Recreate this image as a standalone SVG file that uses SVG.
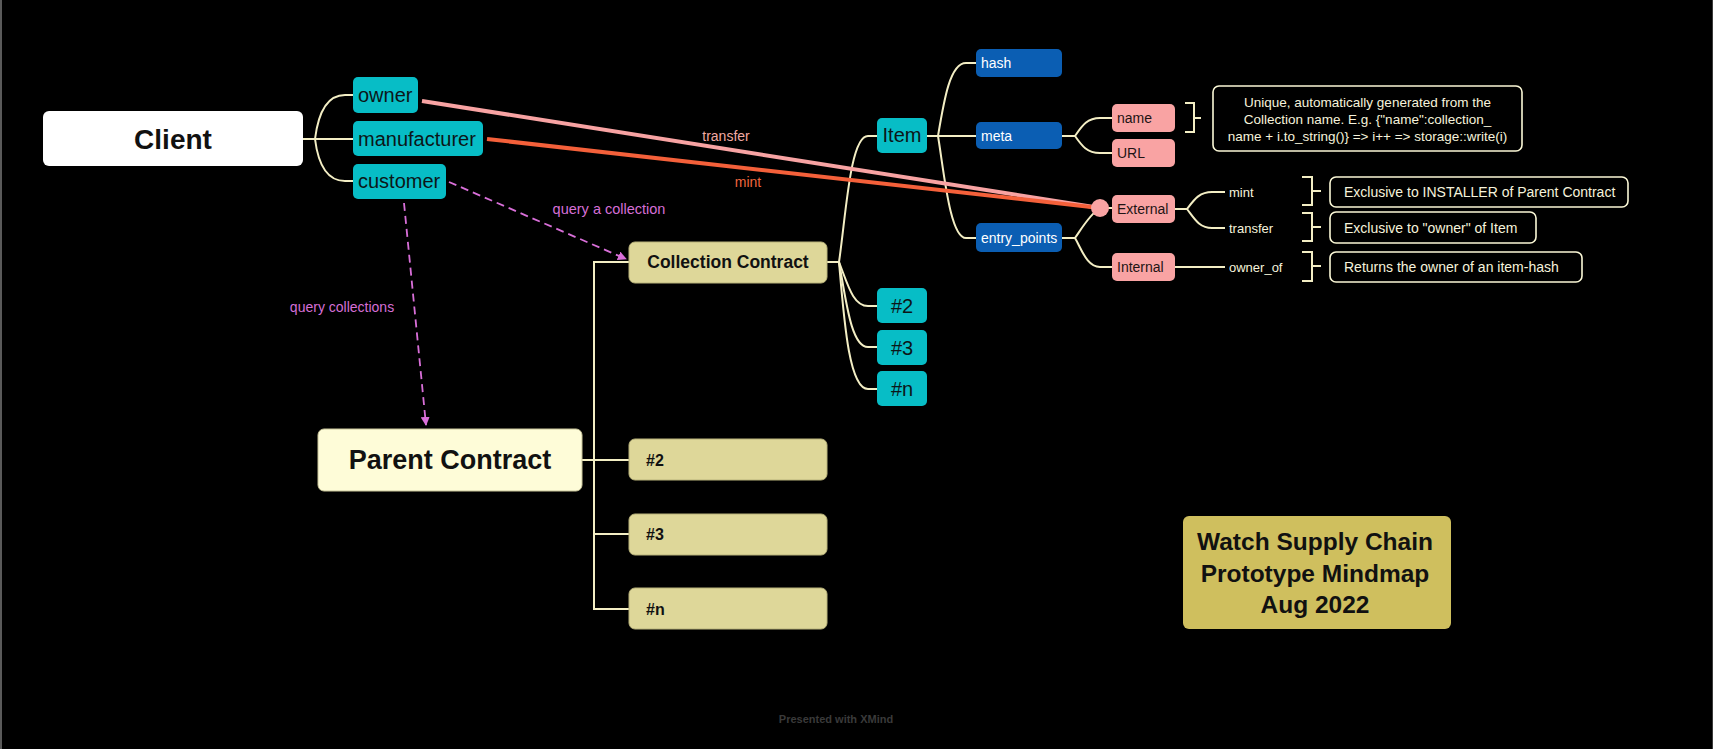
<svg xmlns="http://www.w3.org/2000/svg" width="1713" height="749" viewBox="0 0 1713 749">
<defs>
<marker id="arr" viewBox="0 0 10 10" refX="9" refY="5" markerWidth="9" markerHeight="9" markerUnits="userSpaceOnUse" orient="auto">
<path d="M0,0 L10,5 L0,10 z" fill="#d96fd9"/>
</marker>
<style>
text{font-family:"Liberation Sans",Arial,sans-serif}
.conn{fill:none;stroke:#f3eec4;stroke-width:2}
.brk{fill:none;stroke:#f3eec4;stroke-width:2}
.dash{fill:none;stroke:#d96fd9;stroke-width:1.8;stroke-dasharray:8 5}
.teal{fill:#07bdc6}
.blue{fill:#0b5eb3}
.pink{fill:#f9a3a3}
.khaki{fill:#ded799;stroke:#b8b27a;stroke-width:1}
.note{fill:none;stroke:#fbf8d6;stroke-width:1.6}
.tt{font-size:20px;fill:#0c1618}
.bt{font-size:14px;fill:#ffffff}
.pt{font-size:14px;fill:#1e1414}
.kt{font-size:16px;font-weight:bold;fill:#111}
.wt{font-size:13px;fill:#f6f3dc}
.nt{font-size:14px;fill:#f6f3dc}
.lbl{font-size:14px}
</style>
</defs>
<rect x="0" y="0" width="1713" height="749" fill="#000"/>
<rect x="0" y="0" width="2" height="749" fill="#5a5a5a"/>
<rect x="1712" y="0" width="1" height="749" fill="#3a3a3a"/>

<g id="connectors">
<!-- Client branches -->
<path class="conn" d="M303,139 H315"/>
<path class="conn" d="M315,139 C318,115 326,95 345,95 H353"/>
<path class="conn" d="M315,139 H353"/>
<path class="conn" d="M315,139 C318,163 326,181 345,181 H353"/>
<!-- Parent contract tree -->
<path class="conn" d="M582,460 H629"/>
<path class="conn" d="M629,262 H594 V609 H629"/>
<path class="conn" d="M594,534 H629"/>
<!-- Collection contract children -->
<path class="conn" d="M827,262 H839"/>
<path class="conn" d="M839,262 C846,215 850,136 868,136 H877"/>
<path class="conn" d="M839,262 C848,285 853,306 868,306 H877"/>
<path class="conn" d="M839,262 C846,300 851,347 868,347 H877"/>
<path class="conn" d="M839,262 C844,320 849,389 868,389 H877"/>
<!-- Item children -->
<path class="conn" d="M927,136 H976"/>
<path class="conn" d="M938,136 C944,100 950,63 966,63 H976"/>
<path class="conn" d="M938,136 C944,172 950,238 966,238 H976"/>
<!-- meta children -->
<path class="conn" d="M1062,136 H1075 C1082,126 1087,118 1100,118 H1112"/>
<path class="conn" d="M1075,136 C1082,146 1087,153 1100,153 H1112"/>
<!-- entry_points children -->
<path class="conn" d="M1062,238 H1075 C1082,228 1090,214 1100,208"/>
<path class="conn" d="M1075,238 C1082,250 1087,267 1100,267 H1112"/>
<path class="conn" d="M1105,208 H1112"/>
<!-- External / Internal children -->
<path class="conn" d="M1175,209 H1187 C1194,200 1199,192 1212,192 H1225"/>
<path class="conn" d="M1187,209 C1194,218 1199,228 1212,228 H1225"/>
<path class="conn" d="M1175,267 H1225"/>
<!-- brackets -->
<path class="brk" d="M1185,103 H1194 V132 H1185 M1194,118 H1201"/>
<path class="brk" d="M1302,177 H1312 V205 H1302 M1312,191 H1321"/>
<path class="brk" d="M1302,213 H1312 V241 H1302 M1312,227 H1321"/>
<path class="brk" d="M1302,252 H1312 V281 H1302 M1312,266 H1321"/>
<!-- relationships -->
<path d="M422,101 L1100,208" fill="none" stroke="#f8a3a3" stroke-width="4"/>
<path d="M487,139 L1100,208" fill="none" stroke="#f4603a" stroke-width="4"/>
<circle cx="1100" cy="208" r="9" fill="#f9a3a3"/>
<text class="lbl" x="726" y="141" text-anchor="middle" fill="#f2a9a2">transfer</text>
<text class="lbl" x="748" y="187" text-anchor="middle" fill="#f0663d">mint</text>
<path class="dash" d="M449,182 L626,259" marker-end="url(#arr)"/>
<path class="dash" d="M404,203 L426,425" marker-end="url(#arr)"/>
<text class="lbl" x="609" y="214" text-anchor="middle" fill="#d66fd6" style="font-size:14.5px">query a collection</text>
<text class="lbl" x="342" y="312" text-anchor="middle" fill="#d66fd6">query collections</text>
</g>

<g id="client">
<rect x="43" y="111" width="260" height="55" rx="6" fill="#fff"/>
<text x="173" y="149" text-anchor="middle" font-size="28" font-weight="bold" fill="#111">Client</text>
</g>
<g id="owner">
<rect class="teal" x="353" y="77" width="65" height="36" rx="5"/>
<text class="tt" x="358" y="102">owner</text>
</g>
<g id="manufacturer">
<rect class="teal" x="353" y="121" width="130" height="35" rx="5"/>
<text class="tt" x="358" y="146">manufacturer</text>
</g>
<g id="customer">
<rect class="teal" x="353" y="164" width="93" height="35" rx="5"/>
<text class="tt" x="358" y="188">customer</text>
</g>

<g id="parent-contract">
<rect x="318" y="429" width="264" height="62" rx="6" fill="#fefcd8" stroke="#c9c59a" stroke-width="1"/>
<text x="450" y="469" text-anchor="middle" font-size="27" font-weight="bold" fill="#111">Parent Contract</text>
</g>
<g id="collection-contract">
<rect class="khaki" x="629" y="242" width="198" height="41" rx="6"/>
<text x="728" y="268" text-anchor="middle" font-size="17.5" font-weight="bold" fill="#111">Collection Contract</text>
</g>
<g id="pc-2">
<rect class="khaki" x="629" y="439" width="198" height="41" rx="6"/>
<text class="kt" x="646" y="466">#2</text>
</g>
<g id="pc-3">
<rect class="khaki" x="629" y="514" width="198" height="41" rx="6"/>
<text class="kt" x="646" y="540">#3</text>
</g>
<g id="pc-n">
<rect class="khaki" x="629" y="588" width="198" height="41" rx="6"/>
<text class="kt" x="646" y="615">#n</text>
</g>

<g id="item">
<rect class="teal" x="877" y="118" width="50" height="35" rx="5"/>
<text class="tt" x="902" y="142" text-anchor="middle">Item</text>
</g>
<g id="cc-2">
<rect class="teal" x="877" y="288" width="50" height="35" rx="5"/>
<text class="tt" x="902" y="312.5" text-anchor="middle">#2</text>
</g>
<g id="cc-3">
<rect class="teal" x="877" y="330" width="50" height="35" rx="5"/>
<text class="tt" x="902" y="354.5" text-anchor="middle">#3</text>
</g>
<g id="cc-n">
<rect class="teal" x="877" y="371" width="50" height="35" rx="5"/>
<text class="tt" x="902" y="395.5" text-anchor="middle">#n</text>
</g>

<g id="hash">
<rect class="blue" x="976" y="49" width="86" height="28" rx="5"/>
<text class="bt" x="981" y="68">hash</text>
</g>
<g id="meta">
<rect class="blue" x="976" y="122" width="86" height="27" rx="5"/>
<text class="bt" x="981" y="140.5">meta</text>
</g>
<g id="entry-points">
<rect class="blue" x="976" y="223" width="86" height="29" rx="5"/>
<text class="bt" x="981" y="242.5">entry_points</text>
</g>

<g id="name">
<rect class="pink" x="1112" y="104" width="63" height="28" rx="5"/>
<text class="pt" x="1117" y="123">name</text>
</g>
<g id="url">
<rect class="pink" x="1112" y="139" width="63" height="28" rx="5"/>
<text class="pt" x="1117" y="158">URL</text>
</g>
<g id="external">
<rect class="pink" x="1112" y="195" width="63" height="28" rx="5"/>
<text class="pt" x="1117" y="214">External</text>
</g>
<g id="internal">
<rect class="pink" x="1112" y="253" width="63" height="28" rx="5"/>
<text class="pt" x="1117" y="272">Internal</text>
</g>

<g id="mint">
<text class="wt" x="1229" y="196.5">mint</text>
</g>
<g id="transfer">
<text class="wt" x="1229" y="232.5">transfer</text>
</g>
<g id="owner-of">
<text class="wt" x="1229" y="271.5">owner_of</text>
</g>

<g id="name-note">
<rect class="note" x="1213" y="86" width="309" height="65" rx="6"/>
<text class="nt" x="1367.5" y="106.5" text-anchor="middle" style="font-size:13.5px">Unique, automatically generated from the</text>
<text class="nt" x="1367.5" y="123.5" text-anchor="middle" style="font-size:13.5px">Collection name. E.g. {"name":collection_</text>
<text class="nt" x="1367.5" y="140.5" text-anchor="middle" style="font-size:13.5px">name + i.to_string()} =&gt; i++ =&gt; storage::write(i)</text>
</g>
<g id="mint-note">
<rect class="note" x="1330" y="177" width="298" height="30" rx="6"/>
<text class="nt" x="1344" y="197">Exclusive to INSTALLER of Parent Contract</text>
</g>
<g id="transfer-note">
<rect class="note" x="1330" y="212" width="206" height="31" rx="6"/>
<text class="nt" x="1344" y="233">Exclusive to "owner" of Item</text>
</g>
<g id="owner-of-note">
<rect class="note" x="1330" y="252" width="252" height="30" rx="6"/>
<text class="nt" x="1344" y="272">Returns the owner of an item-hash</text>
</g>

<g id="title">
<rect x="1183" y="516" width="268" height="113" rx="6" fill="#cfbf5e"/>
<text x="1315" y="550" text-anchor="middle" font-size="24.5" font-weight="bold" fill="#111">Watch Supply Chain</text>
<text x="1315" y="582" text-anchor="middle" font-size="24.5" font-weight="bold" fill="#111">Prototype Mindmap</text>
<text x="1315" y="613" text-anchor="middle" font-size="24.5" font-weight="bold" fill="#111">Aug 2022</text>
</g>

<text x="836" y="723" text-anchor="middle" font-size="11" font-weight="bold" fill="#3a3a3a">Presented with XMind</text>
</svg>
